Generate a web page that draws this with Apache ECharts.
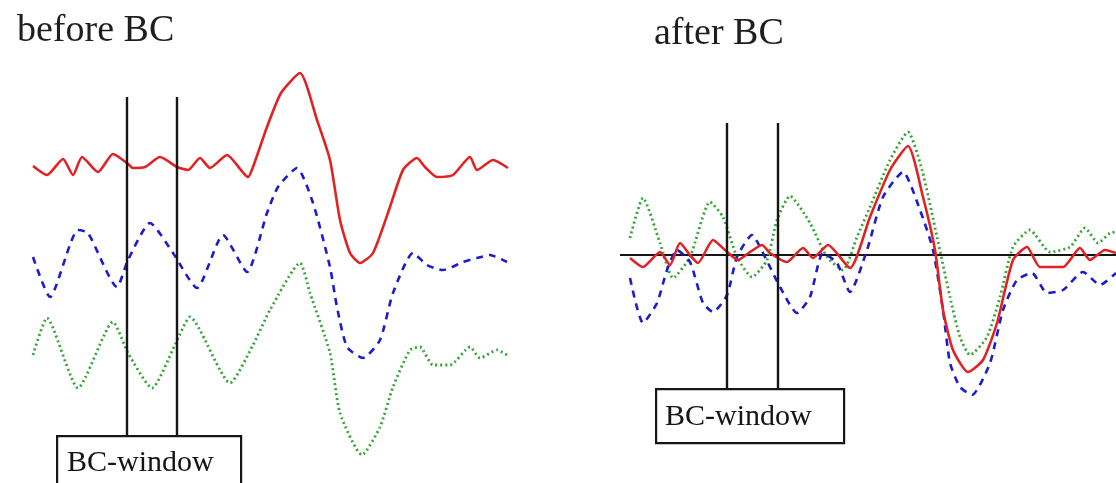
<!DOCTYPE html>
<html>
<head>
<meta charset="utf-8">
<script src="https://cdn.jsdelivr.net/npm/echarts@6/dist/echarts.min.js"></script>
<style>
  html, body { margin: 0; padding: 0; background: #fff; }
  #chart { width: 1116px; height: 483px; }
</style>
</head>
<body>
<div id="chart"></div>
<script>
// Panel titles
const panelTitles = ['before BC', 'after BC'];
const windowLabel = 'BC-window';

// Before baseline correction: [time, amplitude]; each trace sits at its own offset
const beforeRed = [[3,9.4],[17,8.5],[33,10.1],[43,8.5],[52,10.3],[68,8.8],[83,10.6],[97,9.7],[103,9.2],[115,9.3],[130,10.3],[147,9.3],[158,9.0],[170,10.2],[180,9.2],[197,10.5],[218,8.3],[223,9.3],[237,13.3],[251,16.7],[270,18.7],[287,14.0],[300,10.0],[310,4.0],[320,0.7],[330,-0.3],[343,0.7],[360,5.3],[373,9.0],[387,10.2],[395,9.3],[407,8.3],[423,8.5],[440,10.3],[447,9.0],[463,10.0],[478,9.2]];
const beforeBlue = [[3,0.3],[20,-3.7],[48,3.0],[58,2.7],[87,-2.7],[98,0],[120,3.7],[143,0.7],[167,-2.8],[193,2.5],[217,-1.2],[237,4.7],[248,7.3],[267,9.2],[283,5.7],[300,-0.7],[307,-4.7],[317,-8.7],[333,-9.8],[350,-8.0],[363,-3.3],[383,0.7],[397,-0.5],[413,-1.0],[433,-0.2],[447,0.2],[460,0.5],[477,-0.2]];
const beforeGreen = [[3,-9.5],[17,-5.8],[48,-12.8],[83,-6.2],[98,-9.3],[122,-12.8],[145,-8.5],[160,-5.7],[200,-12.3],[223,-8.5],[240,-5.0],[270,-0.3],[280,-3.3],[300,-9.3],[310,-15.3],[332,-19.5],[350,-16.7],[363,-12.7],[380,-9.0],[390,-8.7],[403,-10.5],[420,-10.5],[440,-8.7],[450,-9.8],[467,-9.0],[477,-9.5]];

// After baseline correction: all traces share a zero line
const afterRed = [[10,-0.3],[23,-1.2],[40,0.3],[50,-1.0],[60,1.2],[70,0],[78,-0.8],[93,1.5],[105,0.5],[118,-0.5],[130,0.3],[142,1.0],[150,0.2],[167,-0.7],[183,0.7],[193,-0.3],[208,1.0],[230,-1.3],[250,3.8],[270,8.5],[288,10.9],[303,5.8],[315,0.5],[323,-5.5],[333,-9.5],[348,-11.7],[363,-10.5],[377,-6.8],[393,-0.5],[407,0.8],[420,-1.2],[443,-1.2],[460,0.7],[470,-0.5],[485,0.5],[496,0.2]];
const afterBlue = [[10,-2.3],[23,-6.8],[37,-4.8],[47,-1.5],[57,0.5],[70,-0.7],[83,-4.8],[93,-5.7],[107,-4.0],[117,-0.2],[132,2.0],[145,-0.2],[160,-3.2],[177,-5.8],[190,-4.2],[203,0.2],[217,-0.8],[230,-3.7],[247,0.5],[263,5.8],[283,8.3],[300,4.5],[313,0.5],[323,-5.5],[330,-10.8],[340,-13.2],[352,-14.0],[370,-10.8],[383,-5.5],[397,-2.5],[412,-1.8],[427,-3.8],[443,-3.5],[463,-1.7],[480,-3.0],[496,-1.8]];
const afterGreen = [[10,1.7],[23,5.7],[40,1.2],[53,-2.3],[70,-0.2],[90,5.3],[103,3.8],[117,-0.2],[132,-2.2],[147,-0.5],[157,3.5],[170,5.9],[190,3.2],[207,-0.2],[223,-1.5],[237,1.8],[250,4.8],[270,9.5],[288,12.3],[302,8.5],[317,1.8],[330,-4.2],[340,-8.2],[350,-10.0],[367,-8.2],[380,-4.2],[393,0.8],[410,2.5],[430,0.3],[450,0.8],[465,2.7],[478,1.2],[490,2.2],[496,2.3]];

// Baseline-correction window edges (time) and marker extents (amplitude)
const beforeWindow = [97, 147];
const beforeWindowSpan = [16.3, -17.5];
const afterWindow = [107, 158];
const afterWindowSpan = [13.2, -13.3];
const afterZeroLine = [[0, 0], [496, 0]];

const RED = '#e02222';
const BLUE = '#1c1ccc';
const GREEN = '#35a535';
const INK = '#151515';
const SERIF = '"Liberation Serif", "DejaVu Serif", serif';

function trace(data, color, type, grid) {
  return {
    type: 'line', data: data, xAxisIndex: grid, yAxisIndex: grid,
    smooth: 0.2, symbol: 'none', silent: true, z: 3,
    lineStyle: { color: color, width: type === 'dotted' ? 2.8 : 2.6,
      type: type === 'dashed' ? [7, 6] : (type === 'dotted' ? [2, 3] : 'solid'),
      cap: 'butt' }
  };
}
function vline(t, span, grid) {
  return {
    type: 'line', data: [[t, span[0]], [t, span[1]]], xAxisIndex: grid, yAxisIndex: grid,
    symbol: 'none', silent: true, z: 4,
    lineStyle: { color: INK, width: 2.4 }
  };
}

const chart = echarts.init(document.getElementById('chart'), null, { renderer: 'canvas' });
const hiddenAxis = { show: false, splitLine: { show: false } };

chart.setOption({
  animation: false,
  backgroundColor: '#ffffff',
  title: [
    { text: panelTitles[0], left: 12, top: 7, textStyle: { fontFamily: SERIF, fontSize: 38, fontWeight: 'normal', color: '#1e1e1e' } },
    { text: panelTitles[1], left: 649, top: 10, textStyle: { fontFamily: SERIF, fontSize: 38, fontWeight: 'normal', color: '#1e1e1e' } }
  ],
  grid: [
    { left: 30, width: 480, top: 40, height: 440 },
    { left: 620, width: 496, top: 40, height: 440 }
  ],
  xAxis: [
    Object.assign({ type: 'value', min: 0, max: 480, gridIndex: 0 }, hiddenAxis),
    Object.assign({ type: 'value', min: 0, max: 496, gridIndex: 1 }, hiddenAxis)
  ],
  yAxis: [
    Object.assign({ type: 'value', min: -22, max: 22, gridIndex: 0 }, hiddenAxis),
    Object.assign({ type: 'value', min: -22.5, max: 21.5, gridIndex: 1 }, hiddenAxis)
  ],
  series: [
    vline(beforeWindow[0], beforeWindowSpan, 0),
    vline(beforeWindow[1], beforeWindowSpan, 0),
    trace(beforeRed, RED, 'solid', 0),
    trace(beforeBlue, BLUE, 'dashed', 0),
    trace(beforeGreen, GREEN, 'dotted', 0),
    vline(afterWindow[0], afterWindowSpan, 1),
    vline(afterWindow[1], afterWindowSpan, 1),
    { type: 'line', data: afterZeroLine, xAxisIndex: 1, yAxisIndex: 1, symbol: 'none', silent: true, z: 2,
      lineStyle: { color: INK, width: 2.2 } },
    trace(afterGreen, GREEN, 'dotted', 1),
    trace(afterBlue, BLUE, 'dashed', 1),
    trace(afterRed, RED, 'solid', 1)
  ],
  graphic: [
    { type: 'rect', left: 56, top: 435, z: 10,
      shape: { width: 184, height: 60 },
      style: { fill: '#fff', stroke: INK, lineWidth: 2.2 } },
    { type: 'text', left: 67, top: 448, z: 11,
      style: { text: windowLabel, font: '30px ' + SERIF, fill: '#151515' } },
    { type: 'rect', left: 655, top: 388, z: 10,
      shape: { width: 188, height: 54 },
      style: { fill: '#fff', stroke: INK, lineWidth: 2.2 } },
    { type: 'text', left: 665, top: 402, z: 11,
      style: { text: windowLabel, font: '30px ' + SERIF, fill: '#151515' } }
  ]
});
</script>
</body>
</html>
